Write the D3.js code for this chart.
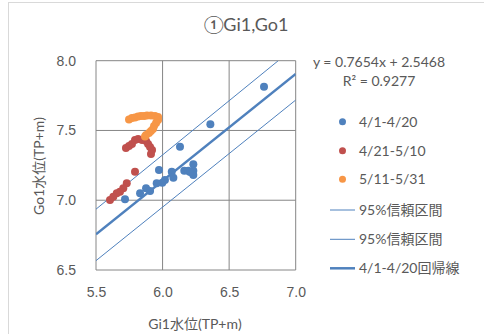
<!DOCTYPE html>
<html>
<head>
<meta charset="utf-8">
<script src="https://cdn.jsdelivr.net/npm/d3@7"></script>
<style>
  body { margin: 0; background: #fff; }
  svg { display: block; font-family: Lato, 'Noto Sans CJK JP', sans-serif; }
  .tick text { fill: #595959; font-size: 14px; }
  .label { fill: #595959; font-size: 14px; }
</style>
</head>
<body>
<svg id="chart" width="484" height="334"></svg>
<script>
// 4/1-4/20 (Gi1, Go1)
const blue = [
  [6.762, 7.814], [6.359, 7.544], [6.131, 7.384], [5.973, 7.217], [6.069, 7.205],
  [6.081, 7.162], [6.163, 7.212], [6.193, 7.212], [6.231, 7.258], [6.231, 7.212],
  [6.231, 7.181], [6.206, 7.203], [6.018, 7.145], [5.998, 7.126], [5.956, 7.122],
  [5.876, 7.086], [5.906, 7.066], [5.831, 7.050], [5.718, 7.007]
]
// 4/21-5/10
const red = [
  [5.725, 7.375], [5.748, 7.389], [5.770, 7.403], [5.793, 7.432], [5.816, 7.439],
  [5.846, 7.432], [5.876, 7.425], [5.891, 7.403], [5.906, 7.382], [5.921, 7.360],
  [5.913, 7.332], [5.793, 7.205], [5.731, 7.122], [5.705, 7.086], [5.680, 7.061],
  [5.656, 7.050], [5.630, 7.025], [5.605, 7.002]
]
// 5/11-5/31
const orange = [
  [5.748, 7.579], [5.770, 7.590], [5.793, 7.593], [5.816, 7.600], [5.838, 7.604],
  [5.861, 7.604], [5.883, 7.607], [5.913, 7.607], [5.943, 7.604], [5.966, 7.597],
  [5.966, 7.575], [5.951, 7.554], [5.936, 7.532], [5.928, 7.511], [5.913, 7.496],
  [5.898, 7.482], [5.876, 7.468], [5.868, 7.457]
]
const regLine = [[5.5, 6.756], [7.0, 7.905]]
const ciUpper = [[5.5, 6.936], [6.869, 8.0]]
const ciLower = [[5.5, 6.567], [7.0, 7.718]]

const xTicks = [5.5, 6.0, 6.5, 7.0]
const yTicks = [6.5, 7.0, 7.5, 8.0]
const legendNames = ['4/1-4/20', '4/21-5/10', '5/11-5/31', '95%信頼区間', '95%信頼区間', '4/1-4/20回帰線']
const equation = 'y = 0.7654x + 2.5468'
const rSquared = 'R² = 0.9277'

const colors = { blue: '#4F81BD', red: '#C0504D', orange: '#F79646' }

const svg = d3.select('#chart')
const plot = { left: 96, right: 295.7, top: 60.7, bottom: 270 }

const x = d3.scaleLinear().domain([5.5, 7.0]).range([plot.left, plot.right])
const y = d3.scaleLinear().domain([6.5, 8.0]).range([plot.bottom, plot.top])

// chart frame (cut off at right/bottom)
svg.append('rect').attr('x', 8.5).attr('y', 2.5).attr('width', 500).attr('height', 400)
  .attr('fill', 'none').attr('stroke', '#d9d9d9')

svg.append('text').attr('x', 246).attr('y', 31).attr('text-anchor', 'middle')
  .attr('fill', '#595959').style('font-size', '18px').text('①Gi1,Go1')

// gridlines
const grid = svg.append('g')
grid.selectAll('.gx').data(xTicks).join('line')
  .attr('x1', d => x(d)).attr('x2', d => x(d)).attr('y1', plot.top).attr('y2', plot.bottom)
  .attr('stroke', '#868686').attr('stroke-width', 1)
grid.selectAll('.gy').data(yTicks).join('line')
  .attr('y1', d => y(d)).attr('y2', d => y(d)).attr('x1', plot.left).attr('x2', plot.right)
  .attr('stroke', '#868686').attr('stroke-width', 1)

const xAxis = d3.axisBottom(x).tickValues(xTicks).tickFormat(d3.format('.1f')).tickSize(0).tickPadding(17)
const yAxis = d3.axisLeft(y).tickValues(yTicks).tickFormat(d3.format('.1f')).tickSize(0).tickPadding(20)
svg.append('g').attr('transform', `translate(0,${plot.bottom})`).call(xAxis)
  .call(g => g.select('.domain').remove())
svg.append('g').attr('transform', `translate(${plot.left},0)`).call(yAxis)
  .call(g => g.select('.domain').remove())

svg.append('text').attr('class', 'label').attr('x', 195).attr('y', 329).attr('text-anchor', 'middle')
  .text('Gi1水位(TP+m)')
svg.append('text').attr('class', 'label').attr('text-anchor', 'middle')
  .attr('transform', 'translate(44,166) rotate(-90)').text('Go1水位(TP+m)')

// clip for lines
svg.append('clipPath').attr('id', 'plotclip').append('rect')
  .attr('x', plot.left).attr('y', plot.top).attr('width', plot.right - plot.left).attr('height', plot.bottom - plot.top)

const line = d3.line().x(d => x(d[0])).y(d => y(d[1]))
const lines = svg.append('g').attr('clip-path', 'url(#plotclip)')
lines.append('path').datum(ciUpper).attr('d', line).attr('fill', 'none').attr('stroke', colors.blue).attr('stroke-width', 1)
lines.append('path').datum(ciLower).attr('d', line).attr('fill', 'none').attr('stroke', colors.blue).attr('stroke-width', 1)
lines.append('path').datum(regLine).attr('d', line).attr('fill', 'none').attr('stroke', colors.blue).attr('stroke-width', 2.5)

const series = [[blue, colors.blue], [red, colors.red], [orange, colors.orange]]
series.forEach(([data, c]) => {
  svg.append('g').selectAll('circle').data(data).join('circle')
    .attr('cx', d => x(d[0])).attr('cy', d => y(d[1])).attr('r', 4).attr('fill', c)
})

// regression label
svg.append('text').attr('class', 'label').attr('x', 379).attr('y', 67).attr('text-anchor', 'middle').text(equation)
svg.append('text').attr('class', 'label').attr('x', 379).attr('y', 86).attr('text-anchor', 'middle').text(rSquared)

// legend
const legendY = [121.7, 150.7, 179.3, 210, 239.3, 268.3]
const legend = svg.append('g')
legendNames.forEach((name, i) => {
  const g = legend.append('g').attr('transform', `translate(0,${legendY[i]})`)
  if (i < 3) {
    g.append('circle').attr('cx', 342.5).attr('cy', 0).attr('r', 3.5).attr('fill', series[i][1])
  } else {
    g.append('line').attr('x1', 330).attr('x2', 355).attr('y1', 0).attr('y2', 0)
      .attr('stroke', colors.blue).attr('stroke-width', i === 5 ? 2.5 : 1)
  }
  g.append('text').attr('class', 'label').attr('x', 359).attr('y', 5).text(name)
})
</script>
</body>
</html>
